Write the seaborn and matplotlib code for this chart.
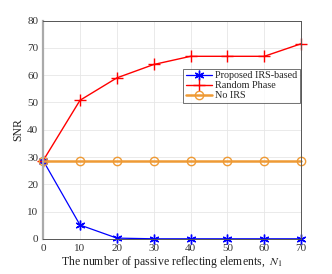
import numpy as np
import pandas as pd
import matplotlib
matplotlib.use("Agg")
import matplotlib.pyplot as plt
import seaborn as sns

# data
n_elements = [0, 10, 20, 30, 40, 50, 60, 70]
snr_proposed = [28.7, 5.1, 0.3, 0.05, 0.05, 0.05, 0.05, 0.05]
snr_random = [28.7, 50.8, 59.0, 63.9, 66.9, 66.9, 66.9, 71.5]
snr_noirs = [28.6, 28.6, 28.6, 28.6, 28.6, 28.6, 28.6, 28.6]
labels = ["Proposed IRS-based", "Random Phase", "No IRS"]

sns.set_style("white")
plt.rcParams["font.family"] = ["Liberation Serif", "DejaVu Serif"]
plt.rcParams["mathtext.fontset"] = "stix"

df = pd.DataFrame({"N": n_elements * 3,
                   "SNR": snr_proposed + snr_random + snr_noirs,
                   "scheme": [labels[0]] * 8 + [labels[1]] * 8 + [labels[2]] * 8})

fig = plt.figure(figsize=(3.32, 2.74), dpi=100)
ax = fig.add_axes([0.13, 0.128, 0.777, 0.797])

colors = {labels[0]: "#0000ff", labels[1]: "#ff0000", labels[2]: "#ee9a35"}
markers = {labels[0]: (6, 2, 0), labels[1]: "+", labels[2]: "o"}
styles = {labels[0]: dict(lw=0.9, ms=7, mew=1.0),
          labels[1]: dict(lw=1.0, ms=8, mew=1.0),
          labels[2]: dict(lw=1.8, ms=6, mfc="none", mew=1.0)}

for s in labels:
    sub = df[df.scheme == s]
    sns.lineplot(data=sub, x="N", y="SNR", ax=ax, color=colors[s],
                 marker=markers[s], mec=colors[s], label=s, clip_on=False, **styles[s])

ax.set_xlim(0, 70)
ax.set_ylim(0, 80)
ax.set_xticks(range(0, 71, 10))
ax.set_yticks(range(0, 81, 10))
ax.grid(True, color="#e6e6e6", lw=0.6)
for sp in ax.spines.values():
    sp.set_color("#555555")
    sp.set_linewidth(0.7)
ax.spines["left"].set_color("#aaaaaa")
ax.spines["left"].set_linewidth(1.6)
ax.tick_params(labelsize=8, colors="#333333", length=2, direction="in")
ax.set_xlabel("The number of passive reflecting elements,  $N_1$", fontsize=8.5, color="#222222", labelpad=1)
ax.set_ylabel("SNR", fontsize=8.5, color="#222222", labelpad=2)

leg = ax.legend(loc="upper right", bbox_to_anchor=(0.995, 0.78), fontsize=7.3, frameon=True,
                fancybox=False, edgecolor="#333333", borderpad=0.25, labelspacing=0.1,
                handlelength=2.6, handletextpad=0.3, borderaxespad=0)
leg.get_frame().set_linewidth(0.6)

fig.savefig("out.png", dpi=100)
